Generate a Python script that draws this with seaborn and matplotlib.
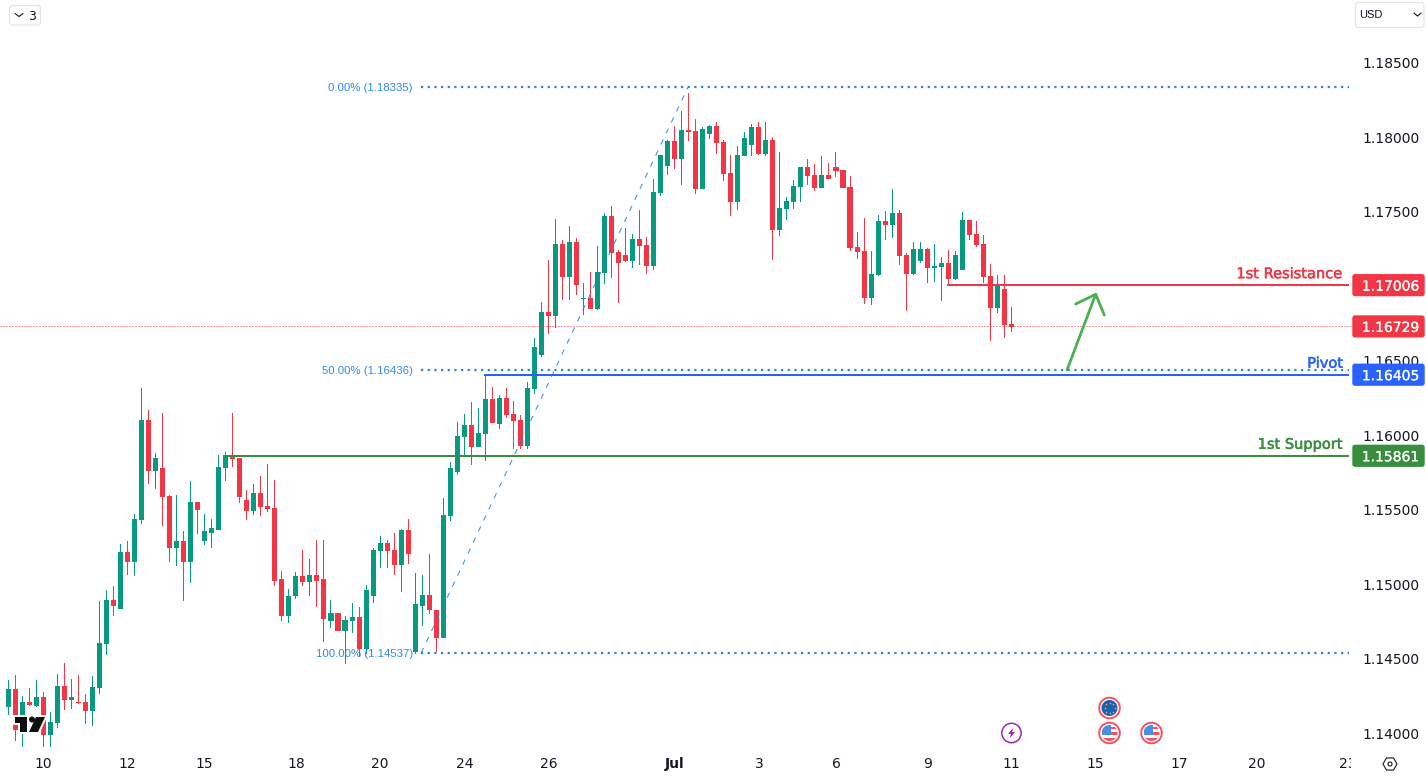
import matplotlib
matplotlib.use("Agg")
import matplotlib.pyplot as plt
import numpy as np
import pandas as pd
import seaborn as sns
import matplotlib.patheffects as pe
from matplotlib.patches import Circle, FancyBboxPatch, Polygon, Rectangle
from matplotlib.transforms import Bbox

opens = [
    1.14178, 1.14298, 1.14016, 1.14211, 1.14184, 1.14245, 1.13989, 1.14070, 1.14319, 1.14225,
    1.14211, 1.14211, 1.14151, 1.14305, 1.14601, 1.14896, 1.14836, 1.15212, 1.15151, 1.15433,
    1.16098, 1.15756, 1.15776, 1.15588, 1.15245, 1.15286, 1.15151, 1.15548, 1.15292, 1.15346,
    1.15366, 1.15776, 1.15863, 1.15843, 1.15561, 1.15488, 1.15608, 1.15521, 1.15508, 1.15031,
    1.14789, 1.14917, 1.15051, 1.15017, 1.15058, 1.15031, 1.14755, 1.14809, 1.14682, 1.14755,
    1.14776, 1.14561, 1.14917, 1.15219, 1.15273, 1.15226, 1.15125, 1.15360, 1.14547, 1.14856,
    1.14930, 1.14829, 1.14641, 1.15454, 1.15749, 1.15985, 1.16065, 1.15917, 1.16004, 1.16239,
    1.16072, 1.16246, 1.16139, 1.16098, 1.15924, 1.16307, 1.16535, 1.16824, 1.16797, 1.17280,
    1.17059, 1.17294, 1.16911, 1.16918, 1.16844, 1.17086, 1.17469, 1.17227, 1.17207, 1.17166,
    1.17314, 1.17274, 1.17133, 1.17623, 1.17804, 1.17972, 1.17851, 1.18046, 1.18039, 1.17650,
    1.18019, 1.18073, 1.17966, 1.17757, 1.17563, 1.17872, 1.17945, 1.18066, 1.17885, 1.17979,
    1.17375, 1.17516, 1.17563, 1.17663, 1.17798, 1.17744, 1.17657, 1.17744, 1.17798, 1.17778,
    1.17663, 1.17260, 1.17234, 1.16918, 1.17072, 1.17435, 1.17408, 1.17489, 1.17207, 1.17079,
    1.17166, 1.17247, 1.17119, 1.17126, 1.17153, 1.17045, 1.17106, 1.17442, 1.17348, 1.17281,
    1.17066, 1.16851, 1.16978, 1.16743,
]
closes = [
    1.14298, 1.14023, 1.14211, 1.14191, 1.14245, 1.13989, 1.14077, 1.14319, 1.14225, 1.14245,
    1.14204, 1.14151, 1.14312, 1.14607, 1.14896, 1.14856, 1.15212, 1.15151, 1.15440, 1.16098,
    1.15756, 1.15843, 1.15581, 1.15245, 1.15286, 1.15151, 1.15548, 1.15494, 1.15353, 1.15373,
    1.15783, 1.15863, 1.15836, 1.15582, 1.15488, 1.15608, 1.15514, 1.15501, 1.15024, 1.14789,
    1.14923, 1.15051, 1.15017, 1.15058, 1.15024, 1.14769, 1.14809, 1.14682, 1.14762, 1.14776,
    1.14561, 1.14957, 1.15226, 1.15273, 1.15219, 1.15125, 1.15360, 1.15205, 1.14863, 1.14930,
    1.14823, 1.14641, 1.15461, 1.15776, 1.15991, 1.16065, 1.15917, 1.16011, 1.16239, 1.16078,
    1.16246, 1.16132, 1.16092, 1.15924, 1.16313, 1.16589, 1.16824, 1.16797, 1.17280, 1.17059,
    1.17294, 1.17005, 1.16918, 1.16844, 1.17092, 1.17469, 1.17220, 1.17153, 1.17166, 1.17314,
    1.17267, 1.17133, 1.17630, 1.17878, 1.17972, 1.17851, 1.18046, 1.18033, 1.17650, 1.18053,
    1.18073, 1.17959, 1.17751, 1.17563, 1.17878, 1.17992, 1.18066, 1.17885, 1.17979, 1.17375,
    1.17522, 1.17569, 1.17670, 1.17798, 1.17737, 1.17657, 1.17744, 1.17717, 1.17771, 1.17657,
    1.17254, 1.17227, 1.16918, 1.17079, 1.17435, 1.17408, 1.17489, 1.17200, 1.17079, 1.17247,
    1.17247, 1.17119, 1.17133, 1.17153, 1.17045, 1.17207, 1.17442, 1.17341, 1.17274, 1.17059,
    1.16851, 1.16998, 1.16737, 1.16728,
]
highs = [
    1.14359, 1.14392, 1.14251, 1.14305, 1.14359, 1.14278, 1.14144, 1.14399, 1.14473, 1.14366,
    1.14392, 1.14265, 1.14386, 1.14889, 1.14957, 1.14990, 1.15266, 1.15292, 1.15467, 1.16313,
    1.16166, 1.15877, 1.16145, 1.15601, 1.15601, 1.15353, 1.15695, 1.15554, 1.15467, 1.15440,
    1.15863, 1.15883, 1.16145, 1.15843, 1.15629, 1.15669, 1.15723, 1.15803, 1.15696, 1.15085,
    1.14964, 1.15078, 1.15232, 1.15165, 1.15299, 1.15293, 1.14890, 1.14823, 1.14789, 1.14870,
    1.14843, 1.14997, 1.15239, 1.15320, 1.15293, 1.15346, 1.15367, 1.15434, 1.15071, 1.15064,
    1.15205, 1.14829, 1.15575, 1.15817, 1.16085, 1.16139, 1.16219, 1.16179, 1.16407, 1.16320,
    1.16266, 1.16313, 1.16226, 1.16132, 1.16354, 1.16649, 1.16891, 1.17173, 1.17448, 1.17307,
    1.17401, 1.17321, 1.17019, 1.17092, 1.17267, 1.17489, 1.17536, 1.17240, 1.17388, 1.17348,
    1.17509, 1.17328, 1.17717, 1.17878, 1.17979, 1.18073, 1.18174, 1.18295, 1.18120, 1.18066,
    1.18080, 1.18100, 1.17979, 1.17878, 1.17939, 1.18033, 1.18086, 1.18100, 1.18100, 1.17999,
    1.17898, 1.17596, 1.17710, 1.17798, 1.17851, 1.17818, 1.17872, 1.17825, 1.17898, 1.17804,
    1.17737, 1.17361, 1.17455, 1.17234, 1.17475, 1.17502, 1.17650, 1.17509, 1.17220, 1.17294,
    1.17294, 1.17254, 1.17281, 1.17193, 1.17240, 1.17234, 1.17495, 1.17442, 1.17435, 1.17341,
    1.17146, 1.17072, 1.17072, 1.16857,
]
lows = [
    1.14124, 1.13949, 1.13909, 1.14184, 1.14178, 1.13909, 1.13909, 1.14037, 1.14157, 1.14164,
    1.14198, 1.14063, 1.14050, 1.14265, 1.14527, 1.14789, 1.14836, 1.15064, 1.15057, 1.15400,
    1.15669, 1.15635, 1.15393, 1.15145, 1.15118, 1.14889, 1.15010, 1.15339, 1.15259, 1.15239,
    1.15366, 1.15695, 1.15783, 1.15541, 1.15427, 1.15461, 1.15454, 1.15481, 1.14984, 1.14749,
    1.14742, 1.14897, 1.14984, 1.14917, 1.14843, 1.14608, 1.14708, 1.14509, 1.14467, 1.14675,
    1.14509, 1.14532, 1.14876, 1.15111, 1.15105, 1.15058, 1.14950, 1.15138, 1.14532, 1.14722,
    1.14802, 1.14541, 1.14641, 1.15420, 1.15729, 1.15864, 1.15796, 1.15917, 1.15823, 1.16078,
    1.16038, 1.16112, 1.15904, 1.15904, 1.15904, 1.16273, 1.16522, 1.16676, 1.16716, 1.16904,
    1.16904, 1.16938, 1.16804, 1.16844, 1.16837, 1.17012, 1.17052, 1.16884, 1.17160, 1.17119,
    1.17139, 1.17079, 1.17106, 1.17603, 1.17744, 1.17784, 1.17677, 1.17972, 1.17616, 1.17650,
    1.17986, 1.17885, 1.17704, 1.17469, 1.17509, 1.17872, 1.17872, 1.17878, 1.17872, 1.17173,
    1.17334, 1.17442, 1.17516, 1.17563, 1.17677, 1.17637, 1.17657, 1.17717, 1.17731, 1.17643,
    1.17234, 1.17180, 1.16878, 1.16871, 1.17066, 1.17307, 1.17321, 1.17139, 1.16831, 1.17072,
    1.17153, 1.17019, 1.17025, 1.16898, 1.16998, 1.17039, 1.17106, 1.17307, 1.17260, 1.17019,
    1.16629, 1.16817, 1.16649, 1.16689,
]

# axis labels
price_ticks = [1.14, 1.145, 1.15, 1.155, 1.16, 1.165, 1.17, 1.175, 1.18, 1.185]
date_ticks = [5, 17, 28, 41, 53, 65, 77, 95, 107, 118, 131, 143, 155, 167, 178, 191]
date_labels = ["10", "12", "15", "18", "20", "24", "26", "Jul", "3", "6", "9", "11", "15", "17", "20", "23"]

# price levels
resistance = 1.17006
pivot = 1.16405
support = 1.15861
last_price = 1.16729
fib_levels = [1.18335, 1.16436, 1.14537]
fib_labels = ["0.00% (1.18335)", "50.00% (1.16436)", "100.00% (1.14537)"]

GREEN = "#089981"
RED = "#F23645"
BLUE = "#2962FF"
LEVEL_GREEN = "#388E3C"
FIB_BLUE = "#2B82D9"
FIB_TEXT = "#2E8BE6"
INK = "#131722"

W, H = 1426, 777
sns.set_theme(style="white")
plt.rcParams["font.family"] = "DejaVu Sans"

df = pd.DataFrame({"open": opens, "high": highs, "low": lows, "close": closes})
df["bar"] = np.arange(len(df))
df["up"] = df["close"] >= df["open"]
df["top"] = df[["open", "close"]].max(axis=1)
df["bottom"] = df[["open", "close"]].min(axis=1)
df["body"] = df["top"] - df["bottom"]
df["wick"] = df["high"] - df["low"]

fig = plt.figure(figsize=(W / 100, H / 100), dpi=100)
ax = fig.add_axes([0, 29 / H, 1352 / W, 748 / H])

for is_up, color in [(True, GREEN), (False, RED)]:
    part = df[df["up"] == is_up]
    sns.barplot(data=part, x="bar", y="wick", bottom=part["low"].values, native_scale=True,
                width=0.14, color=color, saturation=1, errorbar=None, linewidth=0, ax=ax)
    sns.barplot(data=part, x="bar", y="body", bottom=part["bottom"].values, native_scale=True,
                width=0.72, color=color, saturation=1, errorbar=None, linewidth=0, ax=ax)

ax.set_xlim(-1.19, 191.57)
ax.set_ylim(1.139, 1.189195)
ax.set_xlabel("")
ax.set_ylabel("")
sns.despine(ax=ax, left=True, bottom=True)
ax.set_xticks(date_ticks)
ax.set_xticklabels(date_labels, fontsize=10, color=INK)
ax.yaxis.tick_right()
ax.set_yticks(price_ticks)
ax.set_yticklabels([f"{p:.5f}" for p in price_ticks], fontsize=10, color=INK, va="center_baseline")
ax.tick_params(axis="y", length=0, pad=7.2)
ax.tick_params(axis="x", length=0, pad=6.5)
ax.grid(False)
for lab in ax.get_xticklabels():
    lab.set_clip_box(Bbox.from_extents(0, 0, 1351, H))
    lab.set_clip_on(True)
    if lab.get_text() == "Jul":
        lab.set_fontweight("bold")

# drawings
DOTS = (0, (1, 2))
ax.axhline(last_price, color=RED, lw=0.72, ls=DOTS, zorder=3)
fib_start, fib_end = 58.84, 191.14
for level in fib_levels:
    ax.hlines(level, fib_start, fib_end, color=FIB_BLUE, lw=1.6, ls=DOTS, zorder=4)
ax.plot([fib_start, 96.9], [fib_levels[2], fib_levels[0]], color=FIB_BLUE, lw=0.8,
        ls=(0, (5, 6)), alpha=0.85, zorder=4)
ax.hlines(resistance, 133.8, fib_end, color=RED, lw=1.44, zorder=4)
ax.hlines(pivot, 67.8, fib_end, color=BLUE, lw=1.44, zorder=4)
ax.hlines(support, 31.3, fib_end, color=LEVEL_GREEN, lw=1.44, zorder=4)

# overlay in pixel coordinates for badges, buttons and icons
ov = fig.add_axes([0, 0, 1, 1], zorder=5)
ov.set_xlim(0, W)
ov.set_ylim(H, 0)
ov.axis("off")


def price_y(price):
    return H - ax.transData.transform((0, price))[1]


for level, color in [(resistance, RED), (last_price, RED), (pivot, BLUE), (support, LEVEL_GREEN)]:
    y = price_y(level)
    ov.add_patch(FancyBboxPatch((1353, y - 10.4), 71, 20.8, boxstyle="round,pad=0,rounding_size=2",
                                fc=color, ec=color, lw=1))
    ov.text(1390.5, y, f"{level:.5f}", color="white", fontsize=10, ha="center", va="center_baseline",
            path_effects=[pe.withStroke(linewidth=0.15, foreground="white")])

for text, level, color in [("1st Resistance", resistance, RED), ("Pivot", pivot, BLUE),
                           ("1st Support", support, LEVEL_GREEN)]:
    ov.text(1343, price_y(level) - 13, text, color=color, fontsize=10.5, ha="right", va="center_baseline",
            path_effects=[pe.withStroke(linewidth=0.35, foreground=color)])

for level, label in zip(fib_levels, fib_labels):
    ov.text(413, price_y(level), label, color=FIB_TEXT, fontsize=8.2, family="Liberation Sans",
            ha="right", va="center_baseline")

# arrow
ov.plot([1067, 1095.7], [370, 294.3], color="#4CAF50", lw=2, solid_capstyle="round")
ov.plot([1075.7, 1095.7, 1104.3], [304, 294.3, 315], color="#4CAF50", lw=2,
        solid_capstyle="round", solid_joinstyle="round")

# logo, halo first so the black shapes stay whole
LOGO = "#0F0F0F"
logo_t = [(15, 717), (27, 717), (27, 732), (20, 732), (20, 723), (15, 723)]
logo_slash = [(36, 717), (45, 717), (38, 732), (29, 732)]
logo_dot = ((32, 719.5), 3)
for kw in [dict(fc="white", ec="white", lw=2.8), dict(fc=LOGO, ec="none", lw=0)]:
    ov.add_patch(Polygon(logo_t, **kw))
    ov.add_patch(Polygon(logo_slash, **kw))
    ov.add_patch(Circle(*logo_dot, **kw))


def ring(cx, cy):
    ov.add_patch(Circle((cx, cy), 10.3, fc="white", ec="#F7525F", lw=1.4))
    return Circle((cx, cy), 8, transform=ov.transData)


def us_flag(cx, cy):
    clip = ring(cx, cy)
    for x, y, w, h, c in [(cx - 8, cy - 8, 9, 10, "#4A90E2"), (cx + 1, cy - 6, 8, 2, "#F7525F"),
                          (cx + 1, cy - 1, 8, 2.5, "#F7525F"), (cx - 8, cy + 4.5, 16, 3.5, "#F7525F")]:
        ov.add_patch(Rectangle((x, y), w, h, fc=c, ec="none", clip_path=clip))


us_flag(1109.5, 733)
us_flag(1151.5, 733)
ring(1109.5, 708)
ov.add_patch(Circle((1109.5, 708), 8, fc="#1A5FB4", ec="none"))
for angle in np.arange(0, 360, 45):
    ov.plot(1109.5 + 5 * np.cos(np.radians(angle)), 708 + 5 * np.sin(np.radians(angle)), "o",
            ms=1.1, color="#E8C34A", mew=0)

ov.add_patch(Circle((1011.5, 733), 9.7, fc="white", ec="#9C27B0", lw=1.1))
ov.add_patch(Polygon([(1013.5, 727.5), (1008, 734), (1011, 734), (1009.5, 738.5), (1015, 732),
                      (1012, 732)], fc="#9C27B0", ec="none"))

# settings icon
angles = np.radians(np.arange(0, 360, 60))
ov.add_patch(Polygon(np.c_[1390 + 7 * np.cos(angles), 764 + 7 * np.sin(angles)], fc="none",
                     ec=INK, lw=0.8))
ov.add_patch(Circle((1390, 764), 2, fc="none", ec=INK, lw=0.8))

# top buttons
for x, y, w, h in [(9.5, 5.5, 31, 19.5), (1355.5, 2.5, 68.5, 25)]:
    ov.add_patch(FancyBboxPatch((x, y), w, h, boxstyle="round,pad=0,rounding_size=3",
                                fc="white", ec="#E0E3EB", lw=0.8))
ov.plot([15, 19, 23], [13.5, 16.5, 13.5], color=INK, lw=0.8)
ov.text(32, 15, "3", color=INK, fontsize=9, ha="center", va="center_baseline")
ov.text(1359, 14.5, "USD", color=INK, fontsize=8, family="Liberation Sans", ha="left",
        va="center_baseline")
ov.plot([1414, 1417.5, 1421], [13, 16, 13], color=INK, lw=0.8)

fig.savefig("out.png", dpi=100, facecolor="white")
